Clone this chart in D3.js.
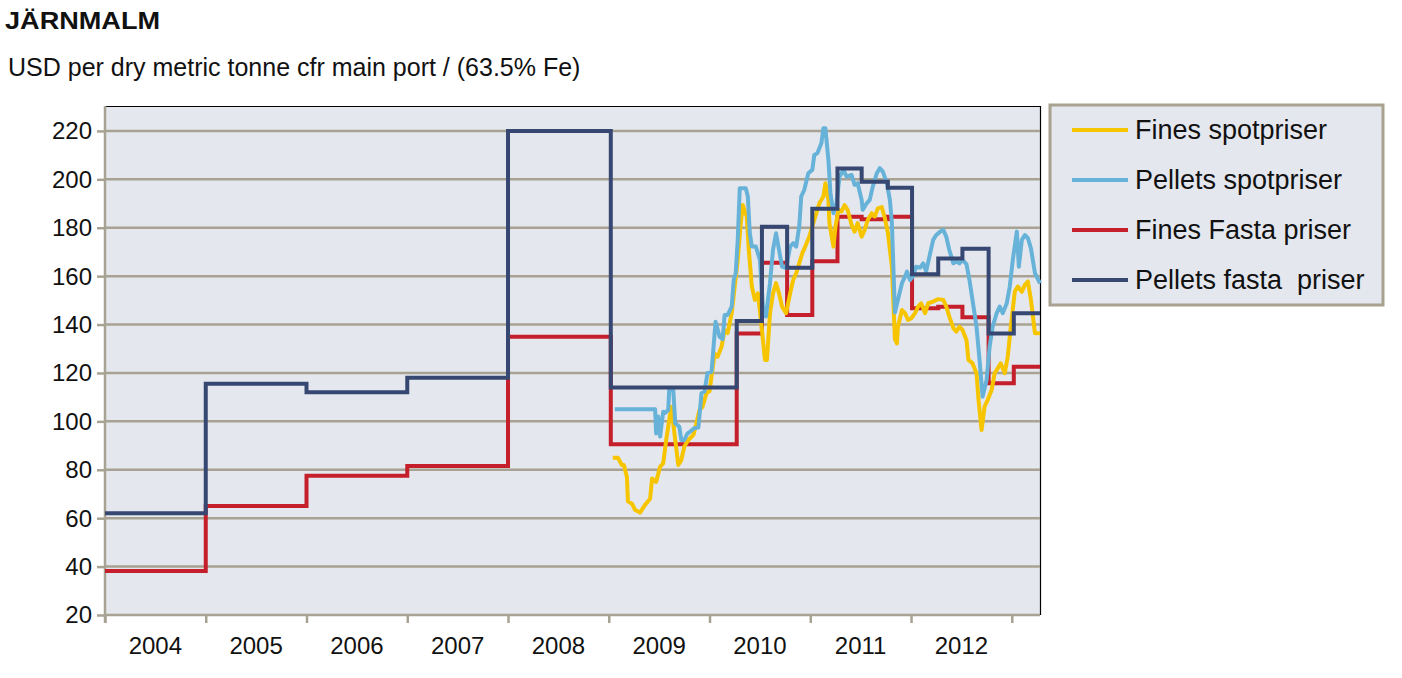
<!DOCTYPE html>
<html>
<head>
<meta charset="utf-8">
<script src="https://cdn.jsdelivr.net/npm/d3@7"></script>
<style>
  body { margin: 0; background: #fff; }
  text { font-family: Arial, "Liberation Sans", sans-serif; fill: #111; }
</style>
</head>
<body>
<div id="chart"></div>
<script>
// year ticks and y ticks
var yearLabels = [2004, 2005, 2006, 2007, 2008, 2009, 2010, 2011, 2012];
var yearTicks = [2004, 2005, 2006, 2007, 2008, 2009, 2010, 2011, 2012, 2013];
var yTicks = [20, 40, 60, 80, 100, 120, 140, 160, 180, 200, 220];

// fixed prices (step after)
var fixedYears = [2004, 2005, 2006, 2007, 2008, 2009.02, 2010.27, 2010.52, 2010.77, 2011.02, 2011.27, 2011.51, 2011.77, 2012.01, 2012.27, 2012.51, 2012.77, 2013.02, 2013.28];
var pelletsFixed = [62, 115.5, 112, 118, 220, 114, 141.5, 180.4, 163.5, 187.8, 204.5, 199, 196.5, 160.8, 167.3, 171.3, 136.3, 144.7, 144.7];
var finesFixed = [38.2, 65, 77.5, 81.6, 135, 90.5, 136.3, 165.5, 144, 166.2, 184.5, 183.5, 184.5, 146.7, 147.4, 143, 115.7, 122.6, 122.6];

// spot prices
var finesSpotYears = [2009.04, 2009.09, 2009.13, 2009.15, 2009.18, 2009.19, 2009.23, 2009.26, 2009.31, 2009.36, 2009.41, 2009.43, 2009.47, 2009.51, 2009.54, 2009.57, 2009.60, 2009.62, 2009.66, 2009.69, 2009.72, 2009.75, 2009.79, 2009.84, 2009.87, 2009.90, 2009.93, 2009.97, 2010.00, 2010.02, 2010.05, 2010.08, 2010.12, 2010.15, 2010.18, 2010.22, 2010.25, 2010.28, 2010.31, 2010.33, 2010.37, 2010.39, 2010.42, 2010.45, 2010.48, 2010.51, 2010.55, 2010.57, 2010.60, 2010.63, 2010.66, 2010.69, 2010.72, 2010.76, 2010.80, 2010.83, 2010.86, 2010.89, 2010.92, 2010.95, 2010.99, 2011.03, 2011.06, 2011.09, 2011.13, 2011.15, 2011.18, 2011.19, 2011.23, 2011.25, 2011.28, 2011.31, 2011.34, 2011.37, 2011.41, 2011.44, 2011.47, 2011.51, 2011.54, 2011.57, 2011.61, 2011.64, 2011.67, 2011.71, 2011.74, 2011.77, 2011.81, 2011.84, 2011.86, 2011.87, 2011.91, 2011.94, 2011.97, 2012.00, 2012.04, 2012.07, 2012.10, 2012.14, 2012.17, 2012.22, 2012.27, 2012.32, 2012.35, 2012.38, 2012.42, 2012.45, 2012.48, 2012.51, 2012.55, 2012.57, 2012.61, 2012.65, 2012.67, 2012.70, 2012.73, 2012.76, 2012.80, 2012.83, 2012.86, 2012.89, 2012.93, 2012.96, 2012.99, 2013.03, 2013.06, 2013.10, 2013.13, 2013.16, 2013.19, 2013.23, 2013.28];
var finesSpot = [85, 85, 82, 82, 77, 67, 66, 63.5, 62.3, 65.5, 68, 76.4, 75, 81.3, 82.6, 92.3, 100.6, 106, 92.3, 82, 84, 89.6, 92.3, 94.4, 99.2, 104.7, 106, 111.6, 112.5, 118.5, 128, 126.7, 130.9, 137.8, 136.5, 144.7, 155.7, 166.7, 181.9, 189.4, 184.6, 170.8, 155.7, 150.2, 152.9, 141.9, 125.4, 125.4, 144.7, 152.9, 157.1, 152.9, 147.4, 144.7, 152.9, 158.4, 161.2, 165.3, 169.4, 172.2, 176.3, 181.9, 186, 190.1, 192.9, 198.4, 191.5, 181.9, 172.2, 180.4, 187.4, 186.7, 189.4, 187.4, 181.2, 178.4, 181.9, 176.3, 179.1, 183.2, 186, 184.6, 188, 188.5, 184, 178, 163.9, 134, 132.2, 139.1, 146, 144.7, 141.9, 142.5, 144.7, 147.4, 148.8, 144.7, 148.8, 149.5, 150.5, 150.2, 147.4, 143.3, 138.5, 137.1, 139.1, 137.8, 133.6, 125.4, 124, 119.9, 108.8, 96.4, 106.1, 108.8, 113, 119.9, 121.9, 124, 119.9, 126.7, 139.1, 153.6, 155.7, 153.6, 156.4, 157.8, 150.2, 136.4, 136.4];

var pelletsSpotYears = [2009.06, 2009.46, 2009.47, 2009.49, 2009.51, 2009.54, 2009.56, 2009.59, 2009.60, 2009.64, 2009.66, 2009.70, 2009.72, 2009.75, 2009.78, 2009.80, 2009.85, 2009.89, 2009.92, 2009.95, 2009.98, 2010.02, 2010.06, 2010.10, 2010.13, 2010.15, 2010.18, 2010.22, 2010.24, 2010.26, 2010.28, 2010.30, 2010.36, 2010.38, 2010.40, 2010.42, 2010.46, 2010.50, 2010.53, 2010.56, 2010.60, 2010.63, 2010.66, 2010.69, 2010.72, 2010.76, 2010.80, 2010.83, 2010.86, 2010.89, 2010.91, 2010.94, 2010.98, 2011.02, 2011.04, 2011.07, 2011.11, 2011.13, 2011.15, 2011.18, 2011.20, 2011.23, 2011.26, 2011.29, 2011.33, 2011.36, 2011.41, 2011.44, 2011.47, 2011.51, 2011.52, 2011.56, 2011.59, 2011.62, 2011.66, 2011.69, 2011.72, 2011.76, 2011.79, 2011.81, 2011.84, 2011.87, 2011.91, 2011.94, 2011.96, 2011.99, 2012.02, 2012.05, 2012.09, 2012.12, 2012.15, 2012.19, 2012.22, 2012.25, 2012.29, 2012.32, 2012.35, 2012.38, 2012.42, 2012.45, 2012.48, 2012.51, 2012.55, 2012.58, 2012.61, 2012.65, 2012.68, 2012.71, 2012.75, 2012.78, 2012.81, 2012.85, 2012.88, 2012.91, 2012.95, 2012.98, 2013.01, 2013.05, 2013.07, 2013.10, 2013.13, 2013.16, 2013.19, 2013.23, 2013.28];
var pelletsSpot = [105, 105, 95, 102, 93.7, 104, 103.5, 104.7, 113, 113, 99.2, 97.8, 92.3, 92.3, 95, 95.5, 97.2, 97.5, 111.6, 112.3, 120, 120.5, 141.2, 135, 134, 144, 144, 147.4, 158.4, 161.2, 175, 196.3, 196.3, 192.9, 177.7, 172.2, 172.2, 166.7, 147.4, 143.3, 157.1, 170.8, 177.7, 170.8, 163.9, 163.3, 172.2, 173.6, 172.2, 180.4, 192.9, 195.6, 202.5, 203.9, 210.1, 210.8, 214.9, 221.1, 221.1, 208, 194.3, 186, 190.1, 201.1, 203.9, 201.1, 201.8, 197.7, 198.4, 191.5, 187.4, 190.1, 191.5, 197, 202.5, 204.6, 203.2, 198.4, 191.5, 182, 145, 150.2, 157.1, 159.8, 161.9, 158.4, 160, 163.9, 163.5, 165.3, 162, 169.5, 175, 177, 178.4, 179.1, 176.3, 170.8, 165.3, 166, 165.3, 166.7, 165, 158.4, 150.2, 139.1, 125.4, 110.2, 117.1, 130.9, 139.1, 144.7, 147.4, 144.7, 148.8, 155.7, 166.7, 178.4, 163.9, 175, 177, 175.7, 171.5, 161.2, 157];

var seriesNames = ["Fines spotpriser", "Pellets spotpriser", "Fines Fasta priser", "Pellets fasta  priser"];
var seriesColors = ["#f6c500", "#66b2d8", "#c41f2a", "#364771"];

var width = 1402, height = 678;
var plot = { left: 105, right: 1040, top: 106, bottom: 615 };

var svg = d3.select("#chart").append("svg")
  .attr("width", width)
  .attr("height", height);

var x = d3.scaleLinear().domain([2004, 2013.28]).range([plot.left, plot.right]);
var y = d3.scaleLinear().domain([20, 230.3]).range([plot.bottom, plot.top]);

// title
svg.append("text")
  .attr("x", 5).attr("y", 28.5)
  .attr("style", "font-size:24px;font-weight:bold")
  .attr("textLength", 155)
  .attr("lengthAdjust", "spacingAndGlyphs")
  .text("JÄRNMALM");

svg.append("text")
  .attr("x", 8).attr("y", 76)
  .attr("style", "font-size:25px")
  .text("USD per dry metric tonne cfr main port / (63.5% Fe)");

// plot background
svg.append("rect")
  .attr("x", plot.left).attr("y", plot.top)
  .attr("width", plot.right - plot.left)
  .attr("height", plot.bottom - plot.top)
  .attr("fill", "#e4e7ee");

// black top / right border
svg.append("path")
  .attr("d", "M" + plot.left + "," + (plot.top + 0.5) + "H" + (plot.right + 0.5) + "V" + plot.bottom)
  .attr("fill", "none")
  .attr("stroke", "#000")
  .attr("stroke-width", 1.2);

var gridColor = "#a8a292";

// horizontal grid
svg.selectAll(".grid")
  .data(yTicks)
  .enter().append("line")
  .attr("class", "grid")
  .attr("x1", plot.left).attr("x2", plot.right)
  .attr("y1", function(d) { return y(d); })
  .attr("y2", function(d) { return y(d); })
  .attr("stroke", gridColor)
  .attr("stroke-width", 2.5);

// y axis
var yAxis = d3.axisLeft(y).tickValues(yTicks).tickSize(8).tickPadding(5);
var yg = svg.append("g")
  .attr("transform", "translate(" + plot.left + ",0)")
  .call(yAxis);
yg.select(".domain").remove();
yg.append("line")
  .attr("x1", 0).attr("x2", 0)
  .attr("y1", plot.top).attr("y2", plot.bottom + 8)
  .attr("stroke", gridColor).attr("stroke-width", 2.5);
yg.selectAll(".tick line").attr("stroke", gridColor).attr("stroke-width", 2.5);
yg.selectAll(".tick text")
  .attr("style", "font-size:24px;font-family:Arial,'Liberation Sans',sans-serif")
  .attr("fill", "#111")
  .attr("dy", "0.33em");

// x axis
var xAxis = d3.axisBottom(x).tickValues(yearTicks).tickSize(8).tickFormat("");
var xg = svg.append("g")
  .attr("transform", "translate(0," + plot.bottom + ")")
  .call(xAxis);
xg.select(".domain").remove();
xg.selectAll(".tick line").attr("stroke", gridColor).attr("stroke-width", 2.5);

svg.selectAll(".year-label")
  .data(yearLabels)
  .enter().append("text")
  .attr("class", "year-label")
  .attr("x", function(d) { return x(d + 0.5); })
  .attr("y", 654)
  .attr("text-anchor", "middle")
  .attr("style", "font-size:24px")
  .text(function(d) { return d; });

// lines
function zip(xs, ys) {
  return xs.map(function(d, i) { return [d, ys[i]]; });
}

var stepLine = d3.line()
  .x(function(d) { return x(d[0]); })
  .y(function(d) { return y(d[1]); })
  .curve(d3.curveStepAfter);

var spotLine = d3.line()
  .x(function(d) { return x(d[0]); })
  .y(function(d) { return y(d[1]); })
  .curve(d3.curveLinear);

svg.append("path")
  .datum(zip(fixedYears, finesFixed))
  .attr("d", stepLine)
  .attr("fill", "none")
  .attr("stroke", seriesColors[2])
  .attr("stroke-width", 4);

svg.append("path")
  .datum(zip(finesSpotYears, finesSpot))
  .attr("d", spotLine)
  .attr("fill", "none")
  .attr("stroke", seriesColors[0])
  .attr("stroke-width", 4)
  .attr("stroke-linejoin", "round");

svg.append("path")
  .datum(zip(pelletsSpotYears, pelletsSpot))
  .attr("d", spotLine)
  .attr("fill", "none")
  .attr("stroke", seriesColors[1])
  .attr("stroke-width", 4)
  .attr("stroke-linejoin", "round");

svg.append("path")
  .datum(zip(fixedYears, pelletsFixed))
  .attr("d", stepLine)
  .attr("fill", "none")
  .attr("stroke", seriesColors[3])
  .attr("stroke-width", 4);

// legend
var legend = svg.append("g").attr("transform", "translate(1050,105)");
legend.append("rect")
  .attr("x", 0).attr("y", 0)
  .attr("width", 333).attr("height", 200)
  .attr("fill", "#e4e7ee")
  .attr("stroke", "#a8a190")
  .attr("stroke-width", 3);

var items = legend.selectAll(".item")
  .data(seriesNames)
  .enter().append("g")
  .attr("class", "item")
  .attr("transform", function(d, i) { return "translate(0," + (25 + i * 50) + ")"; });

items.append("line")
  .attr("x1", 22).attr("x2", 78)
  .attr("y1", 0).attr("y2", 0)
  .attr("stroke", function(d, i) { return seriesColors[i]; })
  .attr("stroke-width", 4);

items.append("text")
  .attr("x", 85).attr("y", 0)
  .attr("dy", "0.35em")
  .attr("style", "font-size:27px;white-space:pre")
  .attr("xml:space", "preserve")
  .text(function(d) { return d; });
</script>
</body>
</html>
